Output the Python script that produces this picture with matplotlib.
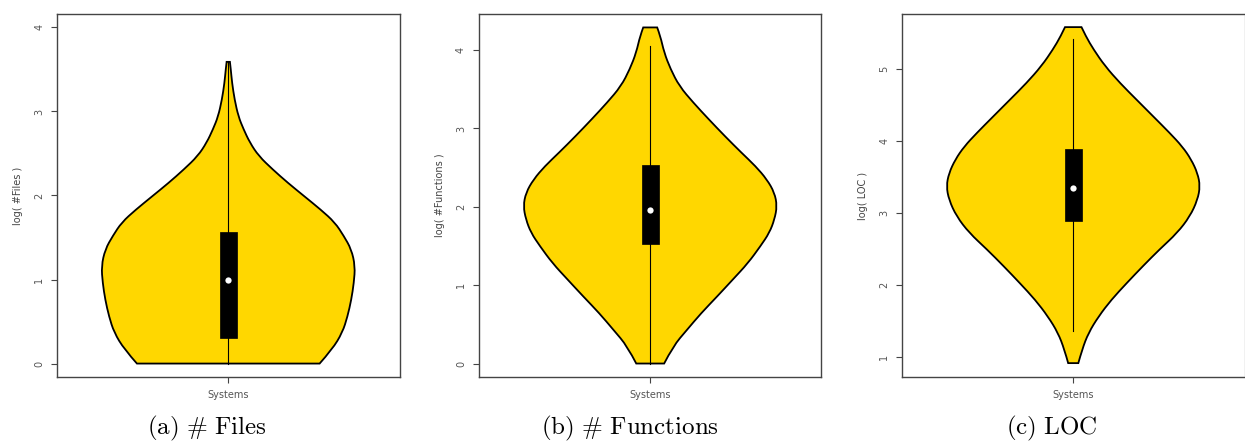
import matplotlib
matplotlib.use("Agg")
import matplotlib.pyplot as plt
from matplotlib.path import Path
from matplotlib.patches import PathPatch
import numpy as np

plt.rcParams['mathtext.fontset'] = 'cm'

# violin outlines: level and relative half width
files_y = [0, 0.17, 0.37, 0.56, 0.76, 0.96, 1.16, 1.36, 1.52, 1.68, 1.83, 1.99,
           2.15, 2.31, 2.47, 2.63, 2.79, 2.94, 3.14, 3.34, 3.50, 3.59]
files_w = [0.72, 0.82, 0.90, 0.94, 0.97, 0.99, 1.00, 0.97, 0.91, 0.84, 0.73, 0.60,
           0.47, 0.35, 0.24, 0.17, 0.12, 0.08, 0.05, 0.03, 0.02, 0.013]

funcs_y = [0, 0.22, 0.43, 0.64, 0.86, 1.07, 1.28, 1.50, 1.67, 1.84, 2.01, 2.18,
           2.35, 2.52, 2.69, 2.90, 3.12, 3.33, 3.54, 3.76, 3.97, 4.18, 4.29]
funcs_w = [0.11, 0.18, 0.29, 0.40, 0.53, 0.65, 0.77, 0.87, 0.94, 0.98, 1.00, 0.98,
           0.92, 0.83, 0.72, 0.59, 0.46, 0.34, 0.23, 0.16, 0.11, 0.08, 0.055]

loc_y = [0.91, 1.10, 1.33, 1.56, 1.79, 2.02, 2.26, 2.49, 2.72, 2.95, 3.18, 3.37,
         3.55, 3.74, 3.92, 4.11, 4.34, 4.57, 4.80, 5.04, 5.27, 5.45, 5.58]
loc_w = [0.04, 0.07, 0.12, 0.20, 0.30, 0.42, 0.55, 0.68, 0.82, 0.92, 0.98, 1.00,
         0.98, 0.93, 0.86, 0.76, 0.63, 0.50, 0.37, 0.25, 0.16, 0.10, 0.065]

# box stats: whisker low, q1, median, q3, whisker high
files_box = [0.0, 0.30, 1.00, 1.56, 3.59]
funcs_box = [0.0, 1.52, 1.965, 2.53, 4.05]
loc_box = [1.35, 2.88, 3.34, 3.89, 5.42]

ylabels = ["log( #Files )", "log( #Functions )", "log( LOC )"]
captions = [r"$\mathrm{(a)\ \#\ Files}$", r"$\mathrm{(b)\ \#\ Functions}$",
            r"$\mathrm{(c)\ LOC}$"]
yticks = [[0, 1, 2, 3, 4], [0, 1, 2, 3, 4], [1, 2, 3, 4, 5]]
ylims = [(-0.16, 4.16), (-0.172, 4.462), (0.717, 5.763)]

gold = "#FFD700"
grey = "#444444"


def smooth_side(pts):
    # quadratic bezier through midpoints, read points used as control points
    verts = [pts[0]]
    codes = [Path.LINETO]
    for k in range(1, len(pts) - 1):
        mid = ((pts[k][0] + pts[k + 1][0]) / 2, (pts[k][1] + pts[k + 1][1]) / 2)
        if k == len(pts) - 2:
            mid = pts[k + 1]
        verts += [pts[k], mid]
        codes += [Path.CURVE3, Path.CURVE3]
    return verts, codes


def violin_path(ys, hw, c=1.0):
    left = [(c - w, y) for y, w in zip(ys, hw)]
    right = [(c + w, y) for y, w in zip(ys, hw)][::-1]
    lv, lc = smooth_side(left)
    rv, rc = smooth_side(right)
    lc[0] = Path.MOVETO
    verts = lv + rv + [left[0]]
    codes = lc + rc + [Path.CLOSEPOLY]
    return Path(verts, codes)


fig = plt.figure(figsize=(12.45, 4.46), dpi=100)
lefts = [0.0458, 0.3847, 0.7245]
caption_x = [207 / 1245, 630 / 1245, 1052 / 1245]

data = [(files_y, files_w, files_box), (funcs_y, funcs_w, funcs_box),
        (loc_y, loc_w, loc_box)]

for i, (ys, ws, box) in enumerate(data):
    ax = fig.add_axes([lefts[i], 0.1547, 0.2751, 0.814])
    hw = 0.4 * np.array(ws)
    ax.add_patch(PathPatch(violin_path(ys, hw), facecolor=gold, edgecolor="black",
                           linewidth=1.3, zorder=2))
    ax.plot([1, 1], [box[0], box[4]], color="black", lw=0.8, zorder=3)
    ax.add_patch(plt.Rectangle((1 - 0.027, box[1]), 0.054, box[3] - box[1],
                               facecolor="black", edgecolor="black", lw=0.5, zorder=4))
    ax.plot(1, box[2], "o", color="white", markersize=4.5, markeredgewidth=0, zorder=5)

    ax.set_xlim(0.46, 1.54)
    ax.set_ylim(*ylims[i])
    ax.set_xticks([1])
    ax.set_xticklabels(["Systems"])
    ax.set_yticks(yticks[i])
    ax.set_ylabel(ylabels[i], fontsize=7, color=grey, labelpad=8)
    ax.tick_params(axis="both", direction="out", length=4.3, width=0.8,
                   color=grey, labelcolor="#555555", labelsize=7, pad=5)
    ax.tick_params(axis="y", labelrotation=90)
    for lab in ax.get_yticklabels():
        lab.set_verticalalignment("center")
    for sp in ax.spines.values():
        sp.set_color(grey)
        sp.set_linewidth(1.0)
    if i == 2:
        ax.spines["right"].set_color("#bbbbbb")

    fig.text(caption_x[i], 0.040, captions[i], fontsize=18, ha="center", va="center")

fig.savefig("out.png", dpi=100)
